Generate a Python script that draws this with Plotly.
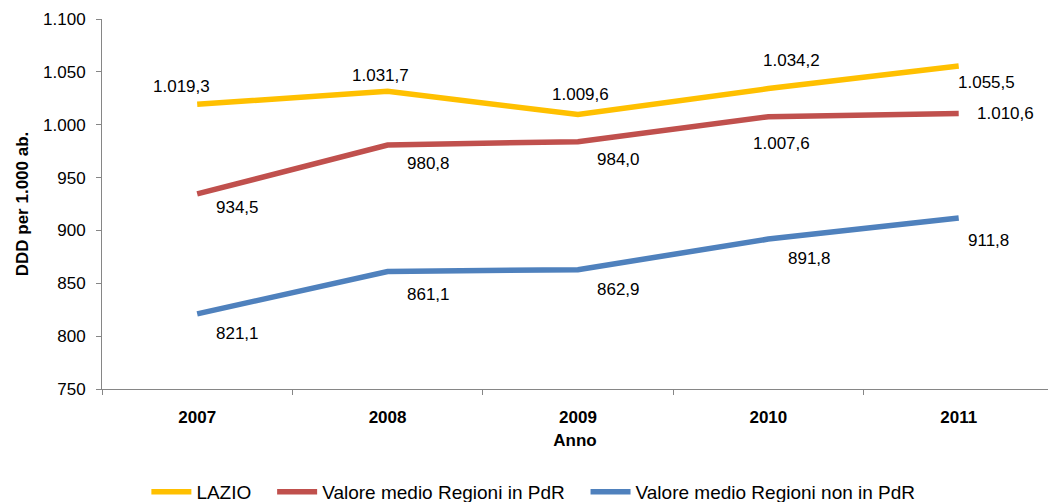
import plotly.graph_objects as go

years = ["2007", "2008", "2009", "2010", "2011"]
lazio = [1019.3, 1031.7, 1009.6, 1034.2, 1055.5]
pdr = [934.5, 980.8, 984.0, 1007.6, 1010.6]
non_pdr = [821.1, 861.1, 862.9, 891.8, 911.8]

series_names = ["LAZIO", "Valore medio Regioni in PdR", "Valore medio Regioni non in PdR"]
series_values = [lazio, pdr, non_pdr]
colors = ["#FFC000", "#C0504D", "#4F81BD"]

# label pixel offsets (style only)
label_dx = [
    [-16, -7, 3, 23, 28],
    [40, 41, 41, 13, 47],
    [40, 41, 41, 41, 30],
]
label_dy = [
    [-18, -16, -20, -28, 16],
    [14, 18, 18, 27, 0],
    [20, 23, 20, 19, 23],
]
legend_pad = ["\u00a0" * 3, "\u00a0" * 3, ""]

FONT = "Liberation Sans, Arial, sans-serif"


def fmt(v):
    s = f"{v:,.1f}"
    return s.replace(",", "X").replace(".", ",").replace("X", ".")


fig = go.Figure()
for name, vals, col, pad in zip(series_names, series_values, colors, legend_pad):
    fig.add_trace(go.Scatter(
        x=years, y=vals, name=name + pad, mode="lines",
        line=dict(color=col, width=5.5),
        hoverinfo="skip",
    ))

for si, vals in enumerate(series_values):
    for i, v in enumerate(vals):
        fig.add_annotation(
            x=i, y=v, xref="x", yref="y", text=fmt(v),
            showarrow=False, xshift=label_dx[si][i], yshift=-label_dy[si][i],
            font=dict(family=FONT, size=17, color="#000000"),
        )

fig.update_layout(
    width=1048, height=502,
    margin=dict(l=102, r=0, t=19, b=113, autoexpand=False),
    paper_bgcolor="white", plot_bgcolor="white",
    separators=",.",
    font=dict(family=FONT, size=17, color="#000000"),
    showlegend=True,
    legend=dict(
        orientation="h", x=0.456, xanchor="center", y=-0.278, yanchor="middle",
        font=dict(family=FONT, size=19, color="#000000"),
        bgcolor="rgba(0,0,0,0)", itemwidth=40,
    ),
    xaxis=dict(
        type="category", range=[-0.5, 4.469],
        showline=True, linecolor="#868686", linewidth=1,
        ticks="outside", ticklen=5, tickcolor="#868686", tickson="boundaries",
        showgrid=False, zeroline=False,
        tickfont=dict(family=FONT, size=17, color="#000000", weight="bold"),
        ticklabelstandoff=13,
        title=dict(text="<b>Anno</b>", font=dict(family=FONT, size=17, color="#000000"), standoff=7),
        fixedrange=True,
    ),
    yaxis=dict(
        range=[750, 1100], dtick=50, tick0=750,
        tickformat=",d",
        showline=True, linecolor="#868686", linewidth=1,
        ticks="outside", ticklen=5, tickcolor="#868686",
        showgrid=False, zeroline=False,
        tickfont=dict(family=FONT, size=17, color="#000000"),
        ticklabelstandoff=7,
        title=dict(text="<b>DDD per 1.000 ab.</b>", font=dict(family=FONT, size=17, color="#000000"), standoff=10),
        fixedrange=True,
    ),
)

fig.write_html(
    "out.html",
    config={"displayModeBar": False},
    post_script="document.body.style.margin='0';document.body.style.overflow='hidden';",
)
